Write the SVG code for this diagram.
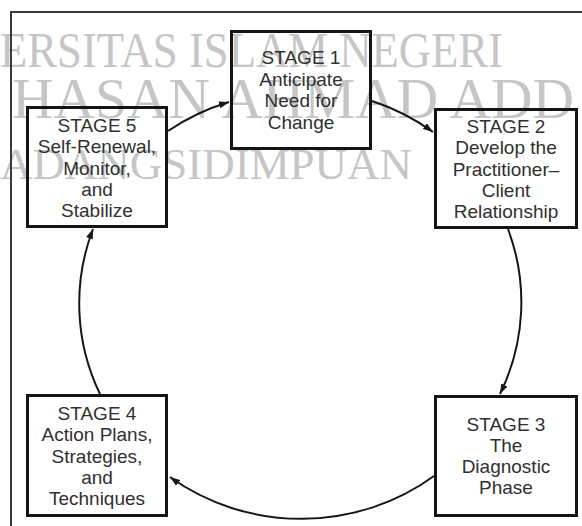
<svg xmlns="http://www.w3.org/2000/svg" width="582" height="526" viewBox="0 0 582 526">
<style>
.wm{font-family:"Liberation Serif","Times New Roman",serif;fill:#c6c6c6}
.box{fill:none;stroke:#141414;stroke-width:3}
.lbl{font-family:"Liberation Sans",Arial,Helvetica,sans-serif;font-size:19px;fill:#303030;text-anchor:middle}
.con{fill:none;stroke:#161616;stroke-width:2}
.frame{fill:none;stroke:#3a3a3a;stroke-width:2}
</style>
<defs>
<marker id="ah" markerUnits="userSpaceOnUse" markerWidth="11" markerHeight="8" refX="10" refY="4" orient="auto">
<path d="M0,0.5 L10,4 L0,7.5 z" fill="#161616"/>
</marker>
</defs>
<rect width="582" height="526" fill="#ffffff"/>
<g id="watermark">
<text class="wm" x="0" y="67" font-size="50" textLength="503" lengthAdjust="spacingAndGlyphs">ERSITAS ISLAM NEGERI</text>
<text class="wm" x="12" y="118" font-size="57" textLength="562" lengthAdjust="spacingAndGlyphs">HASAN AHMAD ADD</text>
<text class="wm" x="0" y="179" font-size="44" textLength="412" lengthAdjust="spacingAndGlyphs">ADANGSIDIMPUAN</text>
</g>
<path class="frame" d="M11,526 V12 H582"/>
<g id="connectors">
<path class="con" d="M168,131 A221,214 0 0 1 229,102" marker-end="url(#ah)"/>
<path class="con" d="M372,101 A221,214 0 0 1 433,132" marker-end="url(#ah)"/>
<path class="con" d="M508,229 A221,214 0 0 1 500,394" marker-end="url(#ah)"/>
<path class="con" d="M434,476 A221,214 0 0 1 170,477" marker-end="url(#ah)"/>
<path class="con" d="M100,394 A221,214 0 0 1 93,229" marker-end="url(#ah)"/>
</g>
<g id="stage1">
<rect class="box" x="231.5" y="31.5" width="139" height="117"/>
<text class="lbl" x="301" y="64">STAGE 1</text>
<text class="lbl" x="301" y="85.5">Anticipate</text>
<text class="lbl" x="301" y="107">Need for</text>
<text class="lbl" x="301" y="128.5">Change</text>
</g>
<g id="stage2">
<rect class="box" x="435.5" y="109.5" width="141" height="118"/>
<text class="lbl" x="506" y="133">STAGE 2</text>
<text class="lbl" x="506" y="154.3">Develop the</text>
<text class="lbl" x="506" y="175.6">Practitioner–</text>
<text class="lbl" x="506" y="197">Client</text>
<text class="lbl" x="506" y="218.3">Relationship</text>
</g>
<g id="stage3">
<rect class="box" x="435.5" y="396.5" width="141" height="119"/>
<text class="lbl" x="506" y="430.5">STAGE 3</text>
<text class="lbl" x="506" y="451.8">The</text>
<text class="lbl" x="506" y="473.1">Diagnostic</text>
<text class="lbl" x="506" y="494.4">Phase</text>
</g>
<g id="stage4">
<rect class="box" x="27.5" y="395.5" width="139" height="120"/>
<text class="lbl" x="97" y="420">STAGE 4</text>
<text class="lbl" x="97" y="441.3">Action Plans,</text>
<text class="lbl" x="97" y="462.6">Strategies,</text>
<text class="lbl" x="97" y="484">and</text>
<text class="lbl" x="97" y="505.3">Techniques</text>
</g>
<g id="stage5">
<rect class="box" x="27.5" y="107.5" width="139" height="119"/>
<text class="lbl" x="97" y="132">STAGE 5</text>
<text class="lbl" x="97" y="153.3">Self-Renewal,</text>
<text class="lbl" x="97" y="174.6">Monitor,</text>
<text class="lbl" x="97" y="196">and</text>
<text class="lbl" x="97" y="217.3">Stabilize</text>
</g>
</svg>
